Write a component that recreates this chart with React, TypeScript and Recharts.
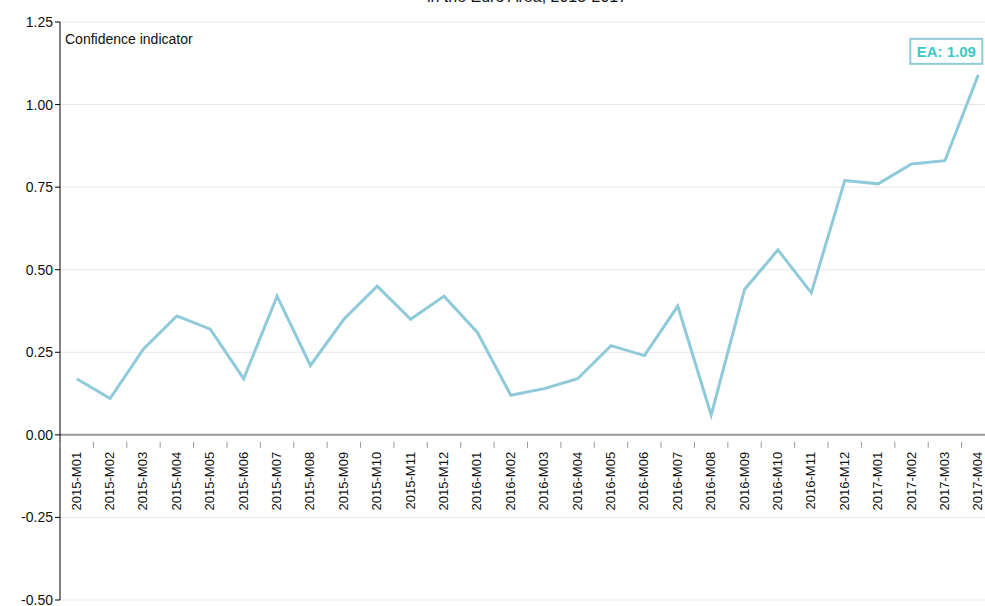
import React from 'react'
import { LineChart, Line, XAxis, YAxis, CartesianGrid, ReferenceLine } from 'recharts'

const months = [
  '2015-M01', '2015-M02', '2015-M03', '2015-M04', '2015-M05', '2015-M06', '2015-M07',
  '2015-M08', '2015-M09', '2015-M10', '2015-M11', '2015-M12', '2016-M01', '2016-M02',
  '2016-M03', '2016-M04', '2016-M05', '2016-M06', '2016-M07', '2016-M08', '2016-M09',
  '2016-M10', '2016-M11', '2016-M12', '2017-M01', '2017-M02', '2017-M03', '2017-M04',
]
const ea = [
  0.17, 0.11, 0.26, 0.36, 0.32, 0.17, 0.42, 0.21, 0.35, 0.45, 0.35, 0.42, 0.31, 0.12,
  0.14, 0.17, 0.27, 0.24, 0.39, 0.06, 0.44, 0.56, 0.43, 0.77, 0.76, 0.82, 0.83, 1.09,
]
const yTicks = [-0.5, -0.25, 0, 0.25, 0.5, 0.75, 1.0, 1.25]

const data = months.map((m, i) => ({ month: m, ea: ea[i] }))

const W = 1000
const H = 606
const M = { top: 22, right: 5, bottom: 5, left: 0 }
const AXIS_W = 60
const X_H = 1
const yMin = -0.5
const yMax = 1.25
const plotH = H - M.top - M.bottom - X_H
const plotW = W - M.left - M.right - AXIS_W
const band = plotW / months.length
// distance from bottom of plot up to the zero line
const zeroOff = (plotH * (0 - yMin)) / (yMax - yMin)

const FONT = '"Liberation Sans", Arial, sans-serif'
const LINE = '#8fcadb'

function MonthTick(props: any) {
  const { x, y, payload, index } = props
  const y0 = y - X_H - zeroOff
  return (
    <g transform={`translate(${x},${y0})`}>
      <line x1={-band / 2} y1={0} x2={-band / 2} y2={6} stroke="#999" strokeWidth={1} />
      {index === months.length - 1 && (
        <line x1={band / 2} y1={0} x2={band / 2} y2={6} stroke="#999" strokeWidth={1} />
      )}
      <text
        transform="rotate(-90)"
        x={-10}
        y={4}
        textAnchor="end"
        fontSize={13}
        fontFamily={FONT}
        fill="#111"
      >
        {payload.value}
      </text>
    </g>
  )
}

function LastLabel(props: any) {
  const { x, y, index, value } = props
  if (index !== months.length - 1) return null
  return (
    <g>
      <rect x={x - 68} y={y - 36} width={72} height={25} fill="#fff" stroke={LINE} strokeWidth={2} />
      <text
        x={x - 32}
        y={y - 18}
        textAnchor="middle"
        fontSize={15}
        fontWeight="bold"
        fontFamily={FONT}
        fill="#3cc8c8"
      >
        {`EA: ${value.toFixed(2)}`}
      </text>
    </g>
  )
}

export default function App() {
  return (
    <div style={{ position: 'absolute', left: 0, top: 0, width: W, height: H, fontFamily: FONT }}>
      <div
        style={{
          position: 'absolute',
          top: -12,
          left: 0,
          width: 1054,
          textAlign: 'center',
          fontSize: 16,
          color: '#111',
        }}
      >
        in the Euro Area, 2015-2017
      </div>
      <div style={{ position: 'absolute', top: 31, left: 65, fontSize: 14, color: '#111' }}>
        Confidence indicator
      </div>
      <LineChart width={W} height={H} data={data} margin={M}>
        <CartesianGrid vertical={false} stroke="#e6e6e6" />
        <XAxis
          dataKey="month"
          height={X_H}
          axisLine={false}
          tickLine={false}
          interval={0}
          padding={{ left: band / 2, right: band / 2 }}
          tick={<MonthTick />}
        />
        <YAxis
          width={AXIS_W}
          domain={[yMin, yMax]}
          ticks={yTicks}
          interval={0}
          tickFormatter={(v: number) => v.toFixed(2)}
          axisLine={{ stroke: '#000', strokeWidth: 1 }}
          tickLine={{ stroke: '#000' }}
          tickSize={5}
          tick={{ fill: '#111', fontSize: 14, fontFamily: FONT }}
        />
        <ReferenceLine y={0} stroke="#999" strokeWidth={2} />
        <Line
          dataKey="ea"
          stroke={LINE}
          strokeWidth={3}
          dot={false}
          isAnimationActive={false}
          label={<LastLabel />}
        />
      </LineChart>
    </div>
  )
}
